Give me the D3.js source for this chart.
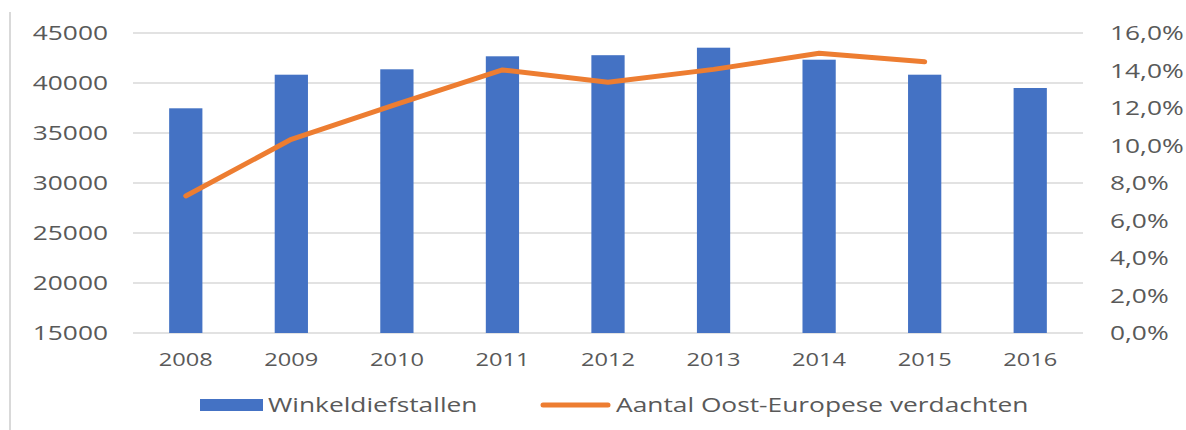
<!DOCTYPE html>
<html>
<head>
<meta charset="utf-8">
<script src="https://cdn.jsdelivr.net/npm/d3@7"></script>
<style>
  body { margin: 0; background: #fff; }
  svg text { font-family: "Open Sans", sans-serif; fill: #595959; }
</style>
</head>
<body>
<div id="chart"></div>
<script>
const years = ["2008", "2009", "2010", "2011", "2012", "2013", "2014", "2015", "2016"];
const winkeldiefstallen = [37470, 40830, 41370, 42670, 42780, 43530, 42330, 40830, 39500];
// last year has no value for the line
const oostEuropees = [0.0731, 0.1033, 0.1221, 0.1403, 0.1337, 0.1406, 0.1492, 0.1447, null];
const leftTicks = [15000, 20000, 25000, 30000, 35000, 40000, 45000];
const rightTicks = [0, 0.02, 0.04, 0.06, 0.08, 0.10, 0.12, 0.14, 0.16];
const seriesNames = ["Winkeldiefstallen", "Aantal Oost-Europese verdachten"];

const WIDTH = 1186, HEIGHT = 430;
const PLOT = { left: 133, right: 1083, top: 33, bottom: 333 };
const STRETCH = 1.35; // the reference text is stretched sideways

const svg = d3.select("#chart")
  .append("svg")
  .attr("width", WIDTH)
  .attr("height", HEIGHT);

// scales
const x = d3.scaleBand()
  .domain(years)
  .range([PLOT.left, PLOT.right])
  .padding(0);

const yLeft = d3.scaleLinear()
  .domain([15000, 45000])
  .range([PLOT.bottom, PLOT.top]);

const yRight = d3.scaleLinear()
  .domain([0, 0.16])
  .range([PLOT.bottom, PLOT.top]);

const fmtPct = d => d3.format(".1%")(d).replace(".", ",");

// left border of the chart frame
svg.append("line")
  .attr("x1", 10).attr("x2", 10)
  .attr("y1", 12).attr("y2", HEIGHT)
  .attr("stroke", "#d9d9d9")
  .attr("stroke-width", 2);

// gridlines
svg.append("g")
  .selectAll("line")
  .data(leftTicks)
  .join("line")
  .attr("x1", PLOT.left)
  .attr("x2", PLOT.right)
  .attr("y1", d => yLeft(d))
  .attr("y2", d => yLeft(d))
  .attr("stroke", "#d9d9d9")
  .attr("stroke-width", 1.5);

// left axis labels
svg.append("g")
  .selectAll("text")
  .data(leftTicks)
  .join("text")
  .attr("transform", d => `translate(108, ${yLeft(d)}) scale(${STRETCH}, 1)`)
  .attr("dy", "0.36em")
  .attr("text-anchor", "end")
  .style("font-size", "19.5px")
  .text(d => d);

// right axis labels
svg.append("g")
  .selectAll("text")
  .data(rightTicks)
  .join("text")
  .attr("transform", d => `translate(1110, ${yRight(d)}) scale(${STRETCH}, 1)`)
  .attr("dy", "0.36em")
  .attr("text-anchor", "start")
  .style("font-size", "19.5px")
  .text(d => fmtPct(d));

// x labels
svg.append("g")
  .selectAll("text")
  .data(years)
  .join("text")
  .attr("transform", d => `translate(${x(d) + x.bandwidth() / 2}, 366) scale(${STRETCH}, 1)`)
  .attr("text-anchor", "middle")
  .style("font-size", "17.5px")
  .text(d => d);

// bars
const barW = x.bandwidth() * 0.315;
svg.append("g")
  .selectAll("rect")
  .data(years)
  .join("rect")
  .attr("x", (d, i) => x(d) + x.bandwidth() / 2 - barW / 2)
  .attr("y", (d, i) => yLeft(winkeldiefstallen[i]))
  .attr("width", barW)
  .attr("height", (d, i) => yLeft(15000) - yLeft(winkeldiefstallen[i]))
  .attr("fill", "#4472c4");

// line
const lineData = years.map((d, i) => ({ year: d, v: oostEuropees[i] }));
const line = d3.line()
  .defined(d => d.v != null)
  .x(d => x(d.year) + x.bandwidth() / 2)
  .y(d => yRight(d.v));

svg.append("path")
  .datum(lineData)
  .attr("d", line)
  .attr("fill", "none")
  .attr("stroke", "#ed7d31")
  .attr("stroke-width", 5)
  .attr("stroke-linejoin", "round")
  .attr("stroke-linecap", "round");

// legend
const legend = svg.append("g");
legend.append("rect")
  .attr("x", 200).attr("y", 399)
  .attr("width", 63).attr("height", 12)
  .attr("fill", "#4472c4");
legend.append("text")
  .attr("transform", `translate(268, 412) scale(${STRETCH}, 1)`)
  .style("font-size", "19.5px")
  .text(seriesNames[0]);
legend.append("line")
  .attr("x1", 543).attr("x2", 608)
  .attr("y1", 405).attr("y2", 405)
  .attr("stroke", "#ed7d31")
  .attr("stroke-width", 5)
  .attr("stroke-linecap", "round");
legend.append("text")
  .attr("transform", `translate(616, 412) scale(${STRETCH}, 1)`)
  .style("font-size", "19.5px")
  .text(seriesNames[1]);
</script>
</body>
</html>
